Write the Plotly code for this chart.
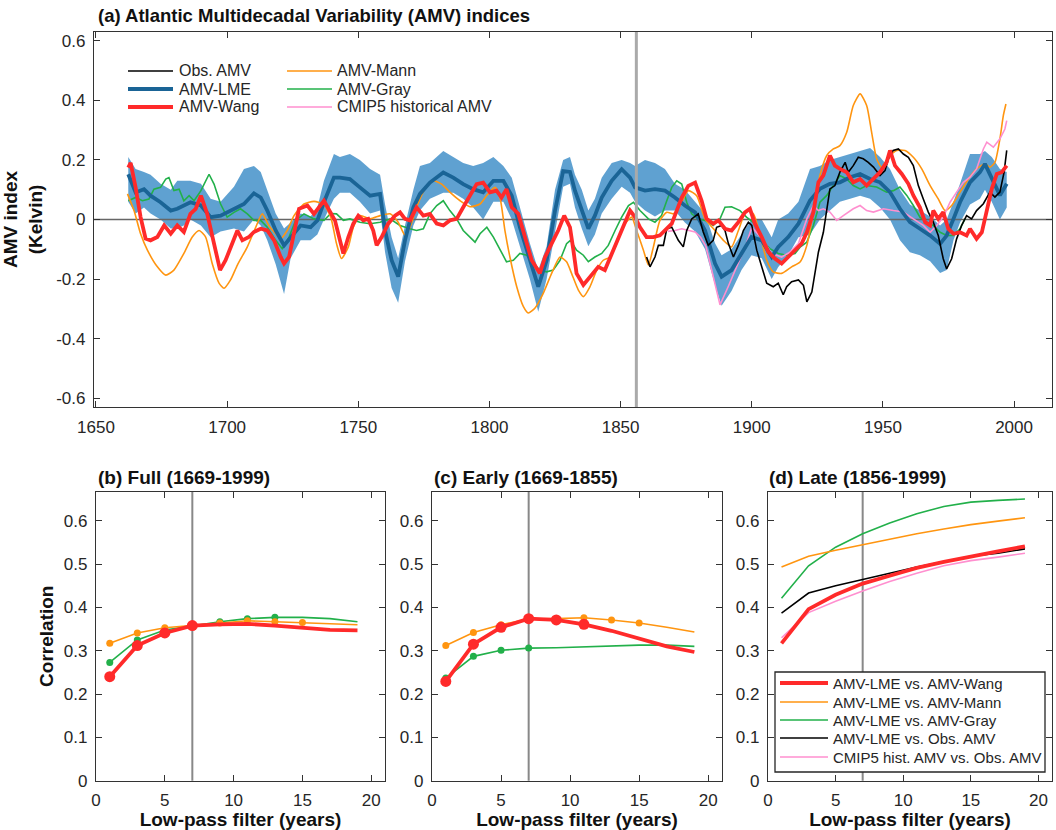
import plotly.graph_objects as go

# ---------------- Panel (a) data ----------------
lme_years = [1662.3, 1665.1, 1668.3, 1670.8, 1674.6, 1678.5, 1681.0, 1683.5, 1686.0, 1690.0,
             1693.7, 1697.5, 1702.6, 1706.4, 1710.2, 1712.8, 1715.3, 1718.5, 1721.7, 1724.2,
             1728.0, 1731.8, 1734.4, 1736.9, 1740.7, 1743.0, 1746.8, 1750.6, 1754.5, 1758.3,
             1760.2, 1762.7, 1765.2, 1767.8, 1771.0, 1773.5, 1777.3, 1782.4, 1786.2, 1790.0,
             1793.8, 1797.6, 1801.5, 1805.3, 1808.5, 1811.6, 1815.4, 1818.6, 1821.8, 1825.0,
             1828.1, 1830.7, 1832.6, 1835.2, 1837.7, 1840.2, 1842.8, 1846.6, 1850.4, 1853.6,
             1855.5, 1859.3, 1863.1, 1866.9, 1870.7, 1874.5, 1878.4, 1882.2, 1886.0, 1888.5,
             1892.3, 1896.1, 1899.9, 1903.8, 1907.6, 1910.1, 1913.9, 1917.8, 1922.2, 1926.0,
             1929.8, 1933.6, 1937.5, 1941.3, 1945.1, 1948.9, 1952.7, 1956.5, 1960.3, 1964.1,
             1968.0, 1971.8, 1974.3, 1976.9, 1979.4, 1983.2, 1987.0, 1988.9, 1991.5, 1994.6,
             1997.2]
lme_vals = [0.152, 0.091, 0.102, 0.080, 0.058, 0.030, 0.036, 0.047, 0.058, 0.047,
            0.008, 0.013, 0.036, 0.052, 0.088, 0.074, 0.030, -0.037, -0.087, -0.059,
            -0.020, -0.026, -0.003, 0.058, 0.141, 0.141, 0.136, 0.108, 0.080, 0.086,
            -0.037, -0.137, -0.192, -0.070, 0.041, 0.086, 0.124, 0.158, 0.141, 0.119,
            0.102, 0.091, 0.130, 0.130, 0.080, -0.026, -0.137, -0.226, -0.137, 0.030,
            0.163, 0.160, 0.097, 0.030, -0.031, 0.013, 0.074, 0.130, 0.169, 0.141,
            0.108, 0.097, 0.102, 0.097, 0.074, 0.047, 0.024, -0.037, -0.148, -0.192,
            -0.170, -0.114, -0.059, -0.070, -0.126, -0.092, -0.059, -0.014, 0.064, 0.103,
            0.120, 0.125, 0.142, 0.153, 0.136, 0.125, 0.092, 0.036, -0.009, -0.031,
            -0.054, -0.082, -0.054, 0.002, 0.058, 0.125, 0.159, 0.187, 0.136, 0.081,
            0.120]
lme_upper = [0.21, 0.17, 0.16, 0.15, 0.12, 0.10, 0.13, 0.13, 0.13, 0.12,
             0.07, 0.06, 0.11, 0.17, 0.18, 0.16, 0.10, 0.02, -0.03, -0.01,
             0.02, 0.01, 0.04, 0.13, 0.22, 0.21, 0.22, 0.20, 0.17, 0.15,
             0.05, -0.06, -0.13, -0.02, 0.10, 0.18, 0.19, 0.23, 0.21, 0.19,
             0.18, 0.19, 0.21, 0.18, 0.14, 0.04, -0.08, -0.17, -0.09, 0.10,
             0.20, 0.21, 0.15, 0.10, 0.03, 0.07, 0.14, 0.19, 0.20, 0.19,
             0.18, 0.20, 0.19, 0.17, 0.12, 0.10, 0.06, 0.02, -0.08, -0.12,
             -0.10, -0.05, 0.00, 0.00, -0.06, 0.00, 0.02, 0.06, 0.17, 0.18,
             0.20, 0.21, 0.22, 0.23, 0.24, 0.21, 0.17, 0.10, 0.05, 0.03,
             0.01, -0.02, 0.00, 0.06, 0.12, 0.22, 0.22, 0.23, 0.21, 0.17,
             0.16]
lme_lower = [0.06, 0.02, 0.04, 0.02, 0.00, -0.03, -0.03, -0.02, 0.00, -0.02,
             -0.06, -0.04, -0.03, -0.04, 0.00, -0.02, -0.07, -0.15, -0.25, -0.13,
             -0.07, -0.07, -0.05, 0.00, 0.07, 0.09, 0.09, 0.06, 0.02, 0.03,
             -0.11, -0.23, -0.28, -0.14, -0.02, 0.03, 0.07, 0.09, 0.09, 0.07,
             0.04, 0.00, 0.06, 0.06, 0.00, -0.09, -0.20, -0.31, -0.20, -0.04,
             0.11, 0.12, 0.04, -0.03, -0.09, -0.05, 0.02, 0.07, 0.11, 0.09,
             0.06, 0.03, 0.01, 0.03, 0.03, -0.01, -0.04, -0.10, -0.22, -0.29,
             -0.24, -0.17, -0.12, -0.13, -0.20, -0.16, -0.12, -0.06, -0.05, 0.00,
             0.03, 0.06, 0.07, 0.08, 0.07, 0.04, 0.00, -0.07, -0.11, -0.12,
             -0.14, -0.18, -0.17, -0.07, -0.01, 0.05, 0.07, 0.10, 0.06, 0.00,
             0.04]

wang_years = [1662.3, 1663.2, 1665.1, 1667.0, 1668.9, 1670.8, 1673.4, 1676.0, 1678.5, 1681.0,
              1683.5, 1686.0, 1688.0, 1690.0, 1692.4, 1695.0, 1697.3, 1699.4, 1702.0, 1703.9,
              1705.8, 1708.3, 1710.2, 1712.8, 1715.3, 1717.9, 1720.4, 1721.7, 1723.6, 1725.5,
              1727.4, 1730.6, 1733.1, 1736.9, 1738.8, 1741.1, 1743.0, 1744.3, 1746.2, 1748.1,
              1750.0, 1751.9, 1753.8, 1755.7, 1757.0, 1758.9, 1761.4, 1764.0, 1765.9, 1767.8,
              1769.7, 1772.2, 1774.8, 1777.3, 1779.9, 1782.4, 1784.9, 1787.5, 1790.0, 1792.6,
              1795.1, 1797.6, 1800.2, 1802.7, 1804.6, 1806.5, 1808.5, 1811.0, 1813.5, 1816.1,
              1819.2, 1821.2, 1823.7, 1826.2, 1828.5, 1830.7, 1832.0, 1833.2, 1835.8, 1837.7,
              1839.6, 1841.5, 1844.0, 1846.6, 1849.1, 1851.7, 1853.6, 1855.5, 1857.4, 1859.9,
              1862.5, 1865.0, 1866.9, 1869.5, 1871.4, 1873.3, 1875.8, 1878.4, 1880.9, 1882.8,
              1885.3, 1887.3, 1889.8, 1892.3, 1894.9, 1897.4, 1899.3, 1901.2, 1903.8, 1906.3,
              1908.8, 1911.4, 1913.9, 1916.5, 1919.0, 1921.0, 1923.5, 1925.4, 1927.3, 1929.8,
              1931.7, 1933.6, 1936.2, 1938.7, 1941.3, 1943.8, 1946.4, 1948.9, 1951.4, 1952.7,
              1954.6, 1957.2, 1959.7, 1961.6, 1964.1, 1966.1, 1968.0, 1969.2, 1971.1, 1973.0,
              1974.9, 1976.9, 1979.4, 1981.9, 1983.2, 1985.7, 1987.7, 1989.6, 1991.5, 1993.4,
              1995.3, 1997.2]
wang_vals = [0.174, 0.190, 0.108, 0.008, -0.064, -0.070, -0.059, -0.020, -0.048, -0.020,
             -0.042, 0.019, 0.036, 0.080, 0.019, -0.081, -0.170, -0.137, -0.081, -0.037,
             -0.070, -0.059, -0.042, -0.031, -0.037, -0.070, -0.126, -0.148, -0.126, -0.048,
             0.036, 0.047, 0.019, 0.063, 0.030, -0.003, -0.070, -0.114, -0.059, -0.014,
             0.013, -0.003, 0.002, -0.037, -0.087, -0.059, -0.014, 0.013, 0.024, 0.002,
             -0.003, 0.041, 0.013, 0.019, -0.014, -0.020, -0.003, 0.002, 0.041, 0.080,
             0.119, 0.124, 0.091, 0.097, 0.074, 0.102, 0.041, 0.019, -0.059, -0.137,
             -0.181, -0.126, -0.081, -0.037, 0.013, -0.026, -0.103, -0.181, -0.220, -0.198,
             -0.181, -0.159, -0.170, -0.114, -0.059, -0.003, 0.030, 0.008, -0.026, -0.059,
             -0.059, -0.053, -0.037, -0.014, 0.030, 0.074, 0.113, 0.124, 0.063, 0.002,
             -0.014, -0.003, -0.031, -0.037, -0.009, 0.024, 0.036, -0.014, -0.059, -0.109,
             -0.131, -0.148, -0.126, -0.103, -0.081, -0.043, 0.025, 0.125, 0.148, 0.215,
             0.181, 0.170, 0.159, 0.125, 0.136, 0.114, 0.136, 0.159, 0.192, 0.232,
             0.181, 0.153, 0.120, 0.081, 0.041, -0.009, -0.020, 0.030, 0.002, 0.025,
             -0.031, -0.048, -0.043, -0.054, -0.031, -0.065, -0.043, 0.025, 0.103, 0.153,
             0.159, 0.181]

mann_years = [1662.0, 1664.5, 1667.0, 1669.6, 1673.4, 1676.6, 1679.7, 1683.5, 1686.7, 1689.3,
              1691.8, 1694.3, 1696.9, 1698.8, 1701.3, 1703.9, 1707.7, 1710.9, 1713.4, 1715.9,
              1718.5, 1720.4, 1722.9, 1725.5, 1729.3, 1733.1, 1736.9, 1739.5, 1741.7, 1743.6,
              1746.2, 1748.1, 1750.6, 1754.5, 1758.3, 1762.1, 1765.2, 1767.8, 1769.7, 1772.2,
              1775.4, 1778.6, 1781.8, 1785.0, 1788.8, 1792.6, 1796.4, 1798.9, 1802.1, 1804.0,
              1805.9, 1807.8, 1810.4, 1812.9, 1814.8, 1817.3, 1820.5, 1823.7, 1826.9, 1829.4,
              1831.3, 1833.9, 1835.8, 1838.3, 1840.9, 1843.4, 1846.0, 1848.5, 1851.7, 1854.2,
              1856.1, 1858.7, 1860.6, 1862.5, 1865.0, 1867.6, 1870.1, 1872.6, 1875.8, 1879.0,
              1882.2, 1886.0, 1889.2, 1892.3, 1894.9, 1898.0, 1900.6, 1903.1, 1905.7, 1908.2,
              1911.4, 1915.2, 1918.4, 1921.0, 1923.5, 1926.0, 1928.6, 1931.1, 1933.6, 1936.2,
              1938.7, 1941.3, 1943.8, 1945.7, 1947.6, 1949.5, 1952.1, 1955.2, 1958.4, 1961.6,
              1964.8, 1968.0, 1971.1, 1973.7, 1976.2, 1979.4, 1982.6, 1985.7, 1988.9, 1990.8,
              1992.7, 1994.6, 1995.9, 1996.9]
mann_vals = [0.086, 0.030, -0.048, -0.103, -0.159, -0.187, -0.170, -0.114, -0.059, -0.037,
             -0.059, -0.148, -0.214, -0.231, -0.203, -0.153, -0.092, -0.026, 0.019, -0.020,
             -0.048, -0.064, -0.037, 0.013, 0.052, 0.061, 0.050, 0.008, -0.081, -0.131,
             -0.092, -0.026, 0.013, 0.002, 0.013, 0.019, -0.009, -0.053, -0.026, 0.041,
             0.102, 0.130, 0.119, 0.091, 0.063, 0.043, 0.052, 0.080, 0.108, 0.074,
             -0.037, -0.126, -0.226, -0.292, -0.314, -0.298, -0.248, -0.181, -0.126, -0.142,
             -0.181, -0.237, -0.259, -0.226, -0.170, -0.137, -0.126, -0.081, -0.014, 0.008,
             -0.037, -0.103, -0.153, -0.092, -0.003, 0.024, 0.019, 0.047, 0.097, 0.080,
             0.002, -0.037, -0.070, -0.092, -0.037, 0.030, 0.019, -0.048, -0.137, -0.176,
             -0.181, -0.159, -0.143, -0.087, 0.025, 0.148, 0.215, 0.237, 0.248, 0.293,
             0.383, 0.422, 0.383, 0.293, 0.204, 0.176, 0.209, 0.232, 0.232, 0.209,
             0.170, 0.114, 0.069, 0.030, 0.047, 0.092, 0.136, 0.170, 0.187, 0.176,
             0.192, 0.271, 0.349, 0.388]

gray_years = [1662.3, 1665.1, 1667.7, 1670.2, 1672.1, 1674.6, 1676.6, 1677.8, 1679.7, 1681.7,
              1683.5, 1685.5, 1687.4, 1690.0, 1693.1, 1695.0, 1697.5, 1700.0, 1702.6, 1705.1,
              1707.7, 1710.2, 1712.8, 1715.3, 1718.5, 1721.0, 1723.6, 1726.1, 1729.3, 1733.1,
              1736.9, 1739.5, 1741.7, 1744.3, 1746.8, 1750.6, 1754.5, 1758.3, 1762.1, 1765.9,
              1769.7, 1772.2, 1774.8, 1777.3, 1779.9, 1782.4, 1784.9, 1787.5, 1790.0, 1792.6,
              1794.5, 1796.4, 1799.0, 1801.5, 1804.0, 1806.5, 1809.1, 1811.6, 1814.2, 1816.7,
              1819.2, 1821.8, 1824.3, 1826.9, 1829.4, 1830.9, 1833.2, 1835.8, 1837.7, 1840.2,
              1842.8, 1845.3, 1847.9, 1850.4, 1853.0, 1854.9, 1857.4, 1860.6, 1863.1, 1865.6,
              1867.6, 1869.5, 1871.4, 1873.3, 1875.2, 1877.1, 1879.6, 1882.2, 1885.3, 1887.9,
              1889.8, 1892.3, 1895.5, 1898.0, 1901.2, 1903.8, 1906.9, 1910.1, 1913.3, 1916.5,
              1918.4, 1921.0, 1923.5, 1926.0, 1928.6, 1931.1, 1933.6, 1936.2, 1938.7, 1941.3,
              1943.8, 1947.6, 1951.4, 1954.0, 1956.5, 1959.1, 1961.6, 1964.1, 1966.7, 1969.2,
              1971.8, 1974.3, 1976.9, 1979.4, 1981.3]
gray_vals = [0.063, 0.074, 0.063, 0.069, 0.102, 0.108, 0.136, 0.141, 0.097, 0.102,
             0.063, 0.080, 0.063, 0.097, 0.152, 0.119, 0.052, 0.008, 0.024, 0.036,
             0.019, -0.003, -0.003, -0.026, -0.070, -0.098, -0.059, -0.003, 0.019, 0.002,
             -0.003, 0.020, 0.019, -0.003, 0.002, -0.009, -0.014, -0.009, 0.002, -0.020,
             -0.031, -0.037, -0.031, 0.019, 0.047, 0.063, 0.030, 0.002, -0.037, -0.059,
             -0.076, -0.048, -0.026, -0.059, -0.103, -0.142, -0.137, -0.114, -0.120, -0.148,
             -0.170, -0.176, -0.170, -0.137, -0.081, -0.070, -0.103, -0.120, -0.142, -0.126,
             -0.114, -0.087, -0.037, 0.008, 0.047, 0.058, 0.030, 0.002, -0.009, 0.013,
             0.063, 0.108, 0.130, 0.119, 0.058, 0.019, 0.002, -0.003, -0.020, 0.002,
             0.041, 0.043, 0.030, 0.008, -0.014, -0.070, -0.098, -0.114, -0.120, -0.114,
             -0.093, -0.076, -0.020, 0.058, 0.081, 0.114, 0.148, 0.136, 0.114, 0.103,
             0.114, 0.109, 0.092, 0.097, 0.109, 0.081, 0.047, 0.008, -0.009, -0.020,
             -0.043, -0.054, -0.054, -0.031, 0.002]

obs_years = [1859.9, 1861.2, 1863.1, 1864.4, 1866.3, 1867.6, 1869.5, 1872.0, 1873.9, 1875.2,
             1877.1, 1879.6, 1881.5, 1883.4, 1885.3, 1886.6, 1888.5, 1889.8, 1891.1, 1893.0,
             1894.9, 1896.8, 1898.7, 1900.0, 1901.9, 1903.8, 1905.7, 1908.2, 1910.1, 1912.0,
             1913.3, 1915.2, 1917.8, 1919.7, 1921.0, 1922.9, 1924.1, 1925.4, 1927.3, 1928.6,
             1929.8, 1931.7, 1933.6, 1935.6, 1936.8, 1938.7, 1940.6, 1942.5, 1944.4, 1946.4,
             1948.9, 1950.8, 1952.1, 1953.9, 1955.9, 1957.8, 1959.7, 1961.6, 1963.5, 1965.4,
             1967.3, 1969.2, 1971.1, 1973.0, 1974.3, 1976.2, 1978.1, 1980.0, 1981.9, 1983.8,
             1985.7, 1988.3, 1990.8, 1992.7, 1994.6, 1996.2, 1997.2]
obs_vals = [-0.126, -0.159, -0.126, -0.087, -0.087, -0.031, -0.026, -0.070, -0.092, -0.037,
            0.002, 0.019, -0.042, -0.087, -0.070, -0.026, -0.020, -0.037, -0.081, -0.126,
            -0.087, -0.037, -0.009, -0.020, -0.103, -0.159, -0.214, -0.226, -0.214, -0.253,
            -0.226, -0.209, -0.203, -0.221, -0.277, -0.244, -0.177, -0.110, -0.043, 0.036,
            0.103, 0.114, 0.159, 0.192, 0.159, 0.181, 0.209, 0.204, 0.192, 0.176,
            0.148, 0.164, 0.204, 0.232, 0.237, 0.220, 0.209, 0.181, 0.114, 0.069,
            0.025, -0.009, -0.054, -0.132, -0.166, -0.132, -0.065, -0.020, 0.013, 0.002,
            0.030, 0.053, 0.092, 0.075, 0.092, 0.159, 0.232]

cmip_years = [1868.0, 1870.7, 1873.3, 1875.8, 1878.4, 1880.5, 1882.5, 1885.0, 1887.9, 1891.0,
              1894.9, 1898.0, 1900.0, 1903.5, 1907.6, 1911.4, 1914.5, 1917.8, 1921.0, 1923.5,
              1925.4, 1927.3, 1929.8, 1932.4, 1934.9, 1938.7, 1941.3, 1943.8, 1946.4, 1950.2,
              1954.0, 1957.8, 1961.6, 1965.4, 1968.0, 1970.5, 1973.0, 1975.6, 1978.1, 1980.7,
              1983.2, 1985.7, 1988.3, 1989.6, 1992.1, 1994.6, 1996.5, 1997.2]
cmip_vals = [-0.040, -0.037, -0.031, -0.037, -0.042, -0.060, -0.090, -0.180, -0.287, -0.226,
             -0.148, -0.081, -0.026, -0.060, -0.114, -0.126, -0.110, -0.081, 0.002, 0.047,
             0.030, 0.036, 0.025, -0.003, 0.013, 0.036, 0.047, 0.030, 0.025, 0.036,
             0.030, 0.025, 0.002, -0.020, -0.043, -0.020, 0.008, 0.058, 0.092, 0.125,
             0.142, 0.170, 0.237, 0.260, 0.243, 0.271, 0.304, 0.332]

split_year = 1856

# ---------------- Panels (b)-(d) data ----------------
filter_years = [1, 3, 5, 7, 9, 11, 13, 15, 17, 19]
chosen_filter = 7

b_wang = [0.240, 0.312, 0.341, 0.358, 0.361, 0.362, 0.358, 0.352, 0.348, 0.347]
b_mann = [0.317, 0.341, 0.353, 0.358, 0.364, 0.369, 0.367, 0.365, 0.362, 0.360]
b_gray = [0.273, 0.325, 0.348, 0.358, 0.367, 0.374, 0.377, 0.377, 0.374, 0.367]
b_wang_sig = [1, 3, 5, 7]
b_mann_sig = [1, 3, 5, 7, 9, 11, 13, 15]
b_gray_sig = [1, 3, 5, 7, 9, 11, 13]

c_wang = [0.229, 0.315, 0.354, 0.374, 0.371, 0.361, 0.346, 0.327, 0.310, 0.297]
c_mann = [0.312, 0.342, 0.360, 0.373, 0.374, 0.376, 0.371, 0.364, 0.354, 0.343]
c_gray = [0.237, 0.287, 0.301, 0.306, 0.307, 0.309, 0.311, 0.313, 0.313, 0.310]
c_wang_sig = [1, 3, 5, 7, 9, 11]
c_mann_sig = [1, 3, 5, 7, 9, 11, 13, 15]
c_gray_sig = [1, 3, 5, 7]

d_wang = [0.317, 0.396, 0.429, 0.455, 0.473, 0.491, 0.505, 0.518, 0.529, 0.541]
d_mann = [0.493, 0.518, 0.532, 0.545, 0.558, 0.570, 0.581, 0.591, 0.599, 0.607]
d_gray = [0.421, 0.496, 0.539, 0.570, 0.595, 0.616, 0.633, 0.643, 0.647, 0.650]
d_obs = [0.387, 0.433, 0.450, 0.465, 0.479, 0.493, 0.506, 0.518, 0.525, 0.535]
d_cmip = [0.330, 0.388, 0.414, 0.438, 0.460, 0.479, 0.496, 0.508, 0.516, 0.525]

# ---------------- Styles ----------------
FONT = "Liberation Sans, Arial, Helvetica, sans-serif"
TXT = "#262626"
TITLE_C = "#111111"
C_OBS = "#000000"
C_LME = "#1a6496"
C_BAND = "rgba(86,156,207,0.95)"
C_WANG = "#ff2a2a"
C_MANN = "#ff9510"
C_GRAY = "#22b04a"
C_CMIP = "#ff8fcf"
W_THIN, W_THICK = 1.6, 3.8

# page geometry (pixels)
W, H = 1056, 830
ML, MR, MT, MB = 94, 4, 32, 49
PW, PH = W - ML - MR, H - MT - MB


def px(x):
    return (x - ML) / PW


def py(y):
    return (MT + PH - y) / PH


fig = go.Figure()

# ---- panel (a)
x_range_a = [1649.24, 2014.46]
fig.add_trace(go.Scatter(x=lme_years + lme_years[::-1], y=lme_upper + lme_lower[::-1],
                         fill="toself", fillcolor=C_BAND, line=dict(width=0),
                         mode="lines", showlegend=False, hoverinfo="skip"))
fig.add_trace(go.Scatter(x=x_range_a, y=[0, 0], mode="lines", line=dict(color="#666666", width=1.5),
                         showlegend=False, hoverinfo="skip"))
fig.add_trace(go.Scatter(x=gray_years, y=gray_vals, mode="lines", name="AMV-Gray",
                         line=dict(color=C_GRAY, width=W_THIN), showlegend=False))
fig.add_trace(go.Scatter(x=mann_years, y=mann_vals, mode="lines", name="AMV-Mann",
                         line=dict(color=C_MANN, width=W_THIN, shape="spline", smoothing=0.6),
                         showlegend=False))
fig.add_trace(go.Scatter(x=cmip_years, y=cmip_vals, mode="lines", name="CMIP5 historical AMV",
                         line=dict(color=C_CMIP, width=W_THIN), showlegend=False))
fig.add_trace(go.Scatter(x=lme_years, y=lme_vals, mode="lines", name="AMV-LME",
                         line=dict(color=C_LME, width=W_THICK), showlegend=False))
fig.add_trace(go.Scatter(x=obs_years, y=obs_vals, mode="lines", name="Obs. AMV",
                         line=dict(color=C_OBS, width=W_THIN), showlegend=False))
fig.add_trace(go.Scatter(x=wang_years, y=wang_vals, mode="lines", name="AMV-Wang",
                         line=dict(color=C_WANG, width=W_THICK), showlegend=False))


def sig_points(xs, ys, sig):
    pxs = [x for x in xs if x in sig]
    pys = [y for x, y in zip(xs, ys) if x in sig]
    return pxs, pys


def add_corr(ax, series):
    for name, vals, sig, color, width, msize in series:
        fig.add_trace(go.Scatter(x=filter_years, y=vals, mode="lines", name=name,
                                 line=dict(color=color, width=width), showlegend=False,
                                 xaxis="x" + ax, yaxis="y" + ax))
        if sig:
            sx, sy = sig_points(filter_years, vals, sig)
            fig.add_trace(go.Scatter(x=sx, y=sy, mode="markers", name=name,
                                     marker=dict(color=color, size=msize), showlegend=False,
                                     xaxis="x" + ax, yaxis="y" + ax))


add_corr("2", [("AMV-LME vs. AMV-Gray", b_gray, b_gray_sig, C_GRAY, W_THIN, 7),
               ("AMV-LME vs. AMV-Mann", b_mann, b_mann_sig, C_MANN, W_THIN, 7),
               ("AMV-LME vs. AMV-Wang", b_wang, b_wang_sig, C_WANG, W_THICK, 11)])
add_corr("3", [("AMV-LME vs. AMV-Gray", c_gray, c_gray_sig, C_GRAY, W_THIN, 7),
               ("AMV-LME vs. AMV-Mann", c_mann, c_mann_sig, C_MANN, W_THIN, 7),
               ("AMV-LME vs. AMV-Wang", c_wang, c_wang_sig, C_WANG, W_THICK, 11)])

d_series = [("AMV-LME vs. AMV-Wang", d_wang, C_WANG, W_THICK),
            ("AMV-LME vs. AMV-Mann", d_mann, C_MANN, W_THIN),
            ("AMV-LME vs. AMV-Gray", d_gray, C_GRAY, W_THIN),
            ("AMV-LME vs. Obs. AMV", d_obs, C_OBS, W_THIN),
            ("CMIP5 hist. AMV vs. Obs. AMV", d_cmip, C_CMIP, W_THIN)]
for nm, vals, color, w in d_series[::-1]:
    fig.add_trace(go.Scatter(x=filter_years, y=vals, mode="lines", name=nm,
                             line=dict(color=color, width=w), showlegend=False,
                             xaxis="x4", yaxis="y4"))

# ---------------- manual legends (boxes, samples, labels) ----------------
shapes = []
annotations = []

top_legend = [
    # (label, color, width, line x0, line x1, text x, row y)
    ("Obs. AMV", C_OBS, W_THIN, 128, 173, 177, 71),
    ("AMV-LME", C_LME, W_THICK, 128, 173, 177, 89),
    ("AMV-Wang", C_WANG, W_THICK, 128, 173, 177, 107),
    ("AMV-Mann", C_MANN, W_THIN, 287, 332, 335, 71),
    ("AMV-Gray", C_GRAY, W_THIN, 287, 332, 335, 89),
    ("CMIP5 historical AMV", C_CMIP, W_THIN, 287, 332, 335, 107),
]
for label, color, w, x0, x1, tx, ry in top_legend:
    shapes.append(dict(type="line", xref="paper", yref="paper", x0=px(x0), x1=px(x1),
                       y0=py(ry), y1=py(ry), line=dict(color=color, width=w), layer="above"))
    annotations.append(dict(text=label, xref="paper", yref="paper", x=px(tx), y=py(ry),
                            xanchor="left", yanchor="middle", showarrow=False,
                            font=dict(family=FONT, size=16, color=TXT)))

shapes.append(dict(type="rect", xref="paper", yref="paper", x0=px(775), x1=px(1045),
                   y0=py(772), y1=py(672), line=dict(color="#262626", width=1.3),
                   fillcolor="white", layer="above"))
d_rows = [683, 702, 720, 738, 757]
for (nm, vals, color, w), ry in zip(d_series, d_rows):
    shapes.append(dict(type="line", xref="paper", yref="paper", x0=px(780), x1=px(828),
                       y0=py(ry), y1=py(ry), line=dict(color=color, width=w), layer="above"))
    annotations.append(dict(text=nm, xref="paper", yref="paper", x=px(831), y=py(ry),
                            xanchor="left", yanchor="middle", showarrow=False,
                            font=dict(family=FONT, size=15, color=TXT)))

# ---------------- axes ----------------
TICK_FS = 17
TITLE_FS = 19


def axstyle(**kw):
    d = dict(showline=True, linecolor="#333333", linewidth=1.3, mirror="ticks",
             ticks="inside", ticklen=6, tickcolor="#333333", tickwidth=1,
             showgrid=False, zeroline=False, automargin=False, ticklabelstandoff=4,
             tickfont=dict(family=FONT, size=TICK_FS, color=TXT))
    d.update(kw)
    return d


ya_vals = [-0.6, -0.4, -0.2, 0, 0.2, 0.4, 0.6]
ya_text = ["-0.6", "-0.4", "-0.2", "0", "0.2", "0.4", "0.6"]
xa_vals = [1650, 1700, 1750, 1800, 1850, 1900, 1950, 2000]
yb_vals = [0, 0.1, 0.2, 0.3, 0.4, 0.5, 0.6]
yb_text = ["0", "0.1", "0.2", "0.3", "0.4", "0.5", "0.6"]
xb_vals = [0, 5, 10, 15, 20]

top_dom = [py(407), py(32)]
bot_dom = [py(780.7), py(491.7)]
title_font = dict(family=FONT, size=TITLE_FS, color=TITLE_C)
x_title = dict(text="<b>Low-pass filter (years)</b>", font=title_font, standoff=4)

fig.update_layout(
    width=W, height=H, margin=dict(l=ML, r=MR, t=MT, b=MB),
    paper_bgcolor="white", plot_bgcolor="white",
    font=dict(family=FONT, color=TXT),
    showlegend=False,
    xaxis=axstyle(domain=[px(94), px(1052)], range=x_range_a, tickvals=xa_vals, anchor="y"),
    yaxis=axstyle(domain=top_dom, range=[-0.63, 0.63], tickvals=ya_vals, ticktext=ya_text,
                  anchor="x",
                  title=dict(text="<b>AMV index</b><br><b>(Kelvin)</b>", font=title_font,
                             standoff=10)),
    xaxis2=axstyle(domain=[px(96), px(385)], range=[0, 21], tickvals=xb_vals, anchor="y2",
                   title=x_title),
    yaxis2=axstyle(domain=bot_dom, range=[0, 0.667], tickvals=yb_vals, ticktext=yb_text,
                   anchor="x2",
                   title=dict(text="<b>Correlation</b>", font=title_font, standoff=5)),
    xaxis3=axstyle(domain=[px(432), px(722)], range=[0, 21], tickvals=xb_vals, anchor="y3",
                   title=x_title),
    yaxis3=axstyle(domain=bot_dom, range=[0, 0.667], tickvals=yb_vals, ticktext=yb_text,
                   anchor="x3"),
    xaxis4=axstyle(domain=[px(768), px(1052)], range=[0, 21], tickvals=xb_vals, anchor="y4",
                   title=x_title),
    yaxis4=axstyle(domain=bot_dom, range=[0, 0.667], tickvals=yb_vals, ticktext=yb_text,
                   anchor="x4"),
)

shapes += [
    dict(type="line", xref="x", yref="paper", x0=split_year, x1=split_year,
         y0=top_dom[0], y1=top_dom[1], line=dict(color="#aaaaaa", width=3), layer="above"),
    dict(type="line", xref="x2", yref="paper", x0=chosen_filter, x1=chosen_filter,
         y0=bot_dom[0], y1=bot_dom[1], line=dict(color="#888888", width=2), layer="below"),
    dict(type="line", xref="x3", yref="paper", x0=chosen_filter, x1=chosen_filter,
         y0=bot_dom[0], y1=bot_dom[1], line=dict(color="#888888", width=2), layer="below"),
    dict(type="line", xref="x4", yref="paper", x0=chosen_filter, x1=chosen_filter,
         y0=bot_dom[0], y1=bot_dom[1], line=dict(color="#888888", width=2), layer="below"),
]

annotations += [
    dict(text="<b>(a) Atlantic Multidecadal Variability (AMV) indices</b>", xref="paper",
         yref="paper", x=px(96), y=py(16), xanchor="left", yanchor="middle",
         showarrow=False, font=dict(family=FONT, size=18.5, color=TITLE_C)),
    dict(text="<b>(b) Full (1669-1999)</b>", xref="paper", yref="paper", x=px(96),
         y=py(477), xanchor="left", yanchor="middle", showarrow=False, font=title_font),
    dict(text="<b>(c) Early (1669-1855)</b>", xref="paper", yref="paper", x=px(432),
         y=py(477), xanchor="left", yanchor="middle", showarrow=False, font=title_font),
    dict(text="<b>(d) Late (1856-1999)</b>", xref="paper", yref="paper", x=px(767),
         y=py(477), xanchor="left", yanchor="middle", showarrow=False, font=title_font),
]

fig.update_layout(shapes=shapes, annotations=annotations)
fig.write_html("out.html")
